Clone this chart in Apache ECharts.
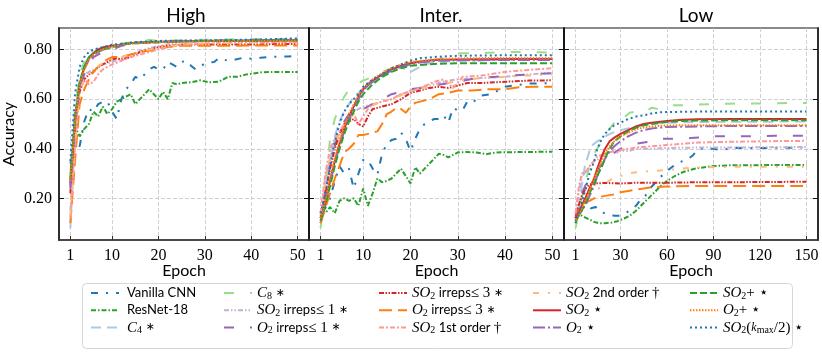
<!DOCTYPE html>
<html>
<head>
<meta charset="utf-8">
<script src="https://cdn.jsdelivr.net/npm/echarts@6/dist/echarts.min.js"></script>
<style>
html, body { margin: 0; padding: 0; background: #fff; }
#chart { width: 822px; height: 352px; }
</style>
</head>
<body>
<div id="chart"></div>
<script>
// panel titles and tick labels
const panelTitles = ['High', 'Inter.', 'Low']
const xTicks = [[1, 10, 20, 30, 40, 50], [1, 10, 20, 30, 40, 50], [1, 30, 60, 90, 120, 150]]
const xRanges = [[-1.45, 52.45], [-1.45, 52.45], [-6.45, 157.45]]
const yTicks = [0.2, 0.4, 0.6, 0.8]
const yRange = [0.032, 0.887]

// ---- High ----
const vanillaHigh = [[1,0.34],[2,0.42],[3,0.41],[4,0.51],[5,0.56],[6,0.55],[7,0.58],[8,0.59],[9,0.59],[10,0.55],[11,0.52],[12,0.60],[13,0.64],[14,0.66],[15,0.69],[16,0.68],[17,0.70],[18,0.72],[19,0.73],[20,0.72],[21,0.72],[22,0.75],[23,0.74],[24,0.73],[25,0.75],[26,0.755],[27,0.735],[28,0.72],[29,0.73],[30,0.745],[32,0.75],[33,0.765],[35,0.755],[36,0.757],[38,0.766],[40,0.763],[42,0.767],[44,0.77],[46,0.772],[48,0.772],[50,0.774]]
const resnetHigh = [[1,0.27],[2,0.49],[3,0.45],[4,0.48],[5,0.50],[6,0.55],[7,0.53],[8,0.57],[9,0.54],[10,0.56],[11,0.59],[12,0.60],[13,0.61],[14,0.62],[15,0.58],[16,0.60],[17,0.62],[18,0.64],[19,0.62],[20,0.60],[21,0.63],[22,0.60],[23,0.665],[24,0.66],[25,0.665],[27,0.668],[29,0.676],[31,0.668],[33,0.67],[34,0.68],[35,0.69],[37,0.69],[39,0.70],[42,0.708],[45,0.71],[50,0.71]]
const c4High = [[1,0.08],[2,0.45],[3,0.66],[4,0.74],[5,0.77],[6,0.79],[7,0.80],[8,0.81],[10,0.815],[12,0.82],[15,0.825],[20,0.83],[25,0.832],[30,0.835],[40,0.836],[50,0.84]]
const c8High = [[1,0.30],[2,0.56],[3,0.70],[4,0.75],[5,0.78],[6,0.795],[8,0.81],[10,0.815],[12,0.825],[15,0.83],[18,0.84],[20,0.835],[25,0.838],[30,0.84],[40,0.842],[50,0.843]]
const so2Irr1High = [[1,0.15],[2,0.45],[3,0.66],[4,0.70],[5,0.71],[6,0.72],[8,0.74],[10,0.75],[12,0.765],[14,0.78],[16,0.795],[18,0.805],[20,0.815],[25,0.83],[30,0.835],[40,0.835],[50,0.838]]
const o2Irr1High = [[1,0.25],[2,0.48],[3,0.64],[4,0.70],[5,0.74],[6,0.77],[8,0.79],[10,0.80],[12,0.815],[15,0.825],[20,0.83],[25,0.833],[30,0.835],[40,0.838],[50,0.84]]
const so2Irr3High = [[1,0.22],[2,0.50],[3,0.63],[4,0.68],[5,0.70],[6,0.71],[7,0.73],[8,0.74],[9,0.75],[10,0.76],[11,0.765],[12,0.76],[14,0.77],[16,0.79],[18,0.80],[20,0.81],[22,0.815],[25,0.82],[30,0.82],[40,0.82],[45,0.822],[50,0.823]]
const o2Irr3High = [[1,0.10],[2,0.35],[3,0.58],[4,0.64],[5,0.68],[6,0.71],[7,0.73],[8,0.75],[9,0.76],[10,0.77],[12,0.77],[14,0.78],[16,0.79],[18,0.795],[20,0.805],[22,0.81],[25,0.815],[30,0.815],[40,0.816],[50,0.816]]
const so2FirstHigh = [[1,0.12],[2,0.40],[3,0.66],[4,0.68],[5,0.66],[6,0.67],[7,0.70],[8,0.72],[9,0.73],[10,0.74],[12,0.755],[14,0.77],[16,0.78],[18,0.79],[20,0.80],[22,0.81],[25,0.82],[30,0.825],[40,0.83],[50,0.83]]
const so2SecondHigh = [[1,0.13],[2,0.42],[3,0.63],[4,0.68],[5,0.70],[6,0.72],[8,0.745],[10,0.76],[12,0.77],[14,0.78],[16,0.79],[18,0.80],[20,0.81],[25,0.82],[30,0.825],[40,0.83],[50,0.832]]
const so2High = [[1,0.26],[2,0.52],[3,0.66],[4,0.73],[5,0.765],[6,0.785],[7,0.80],[8,0.808],[10,0.815],[12,0.82],[15,0.828],[20,0.832],[25,0.834],[30,0.835],[40,0.836],[50,0.838]]
const o2High = [[1,0.24],[2,0.50],[3,0.65],[4,0.72],[5,0.76],[6,0.78],[8,0.80],[10,0.81],[12,0.82],[15,0.825],[20,0.83],[25,0.835],[30,0.836],[40,0.837],[50,0.84]]
const so2PlusHigh = [[1,0.28],[2,0.53],[3,0.67],[4,0.73],[5,0.77],[6,0.785],[8,0.80],[10,0.81],[12,0.82],[15,0.828],[20,0.83],[25,0.833],[30,0.835],[40,0.836],[50,0.837]]
const o2PlusHigh = [[1,0.27],[2,0.51],[3,0.66],[4,0.72],[5,0.76],[6,0.78],[8,0.80],[10,0.812],[12,0.82],[15,0.825],[20,0.83],[25,0.832],[30,0.834],[40,0.835],[50,0.836]]
const so2HalfHigh = [[1,0.35],[2,0.62],[3,0.73],[4,0.77],[5,0.79],[6,0.80],[8,0.81],[10,0.82],[12,0.823],[15,0.83],[20,0.835],[30,0.837],[40,0.84],[50,0.845]]

// ---- Inter. ----
const vanillaInter = [[1,0.15],[2,0.16],[3,0.20],[4,0.27],[5,0.33],[6,0.30],[7,0.32],[8,0.24],[9,0.30],[10,0.355],[11,0.355],[12,0.32],[13,0.295],[14,0.38],[15,0.42],[16,0.435],[17,0.44],[18,0.465],[19,0.44],[20,0.39],[21,0.44],[22,0.48],[23,0.50],[24,0.51],[25,0.52],[26,0.52],[27,0.535],[28,0.505],[29,0.565],[30,0.555],[31,0.555],[32,0.59],[33,0.585],[35,0.615],[37,0.62],[40,0.65],[42,0.656],[45,0.663],[50,0.665]]
const resnetInter = [[1,0.15],[2,0.14],[3,0.165],[4,0.14],[5,0.19],[6,0.20],[7,0.19],[8,0.20],[9,0.17],[10,0.24],[11,0.17],[12,0.22],[13,0.28],[14,0.265],[15,0.27],[16,0.28],[17,0.30],[18,0.32],[19,0.29],[20,0.26],[21,0.325],[22,0.30],[23,0.32],[24,0.34],[25,0.36],[26,0.38],[27,0.375],[28,0.365],[30,0.385],[32,0.387],[34,0.385],[36,0.378],[38,0.385],[40,0.386],[45,0.387],[50,0.388]]
const c4Inter = [[1,0.13],[2,0.24],[3,0.36],[4,0.45],[5,0.51],[6,0.55],[7,0.58],[8,0.61],[10,0.64],[12,0.67],[14,0.69],[16,0.72],[18,0.73],[19,0.72],[20,0.71],[21,0.72],[23,0.74],[25,0.75],[30,0.755],[40,0.758],[50,0.76]]
const c8Inter = [[1,0.08],[2,0.25],[3,0.44],[4,0.52],[5,0.57],[6,0.61],[7,0.64],[8,0.655],[10,0.675],[12,0.69],[14,0.71],[16,0.725],[18,0.735],[20,0.745],[25,0.758],[28,0.77],[30,0.785],[35,0.785],[40,0.79],[45,0.79],[50,0.787]]
const so2Irr1Inter = [[1,0.14],[2,0.28],[3,0.36],[4,0.42],[5,0.46],[6,0.50],[7,0.53],[8,0.55],[10,0.57],[12,0.58],[14,0.59],[16,0.60],[18,0.62],[20,0.635],[22,0.645],[25,0.66],[28,0.675],[30,0.68],[35,0.685],[40,0.69],[45,0.70],[50,0.705]]
const o2Irr1Inter = [[1,0.10],[2,0.22],[3,0.33],[4,0.41],[5,0.47],[6,0.51],[7,0.54],[8,0.55],[9,0.56],[10,0.56],[11,0.57],[12,0.58],[14,0.60],[16,0.62],[18,0.63],[20,0.64],[22,0.645],[25,0.655],[28,0.665],[30,0.67],[34,0.685],[38,0.69],[41,0.695],[45,0.70],[50,0.705]]
const so2Irr3Inter = [[1,0.12],[2,0.22],[3,0.32],[4,0.40],[5,0.46],[6,0.50],[7,0.51],[8,0.52],[9,0.50],[10,0.49],[11,0.53],[12,0.56],[14,0.57],[16,0.58],[18,0.60],[20,0.625],[22,0.635],[24,0.645],[26,0.65],[28,0.645],[30,0.655],[32,0.665],[35,0.665],[40,0.67],[45,0.675],[50,0.676]]
const o2Irr3Inter = [[1,0.10],[2,0.16],[3,0.22],[4,0.28],[5,0.33],[6,0.385],[7,0.40],[8,0.42],[9,0.455],[10,0.455],[12,0.465],[13,0.47],[14,0.50],[15,0.54],[16,0.55],[17,0.565],[18,0.56],[19,0.545],[20,0.57],[21,0.585],[22,0.59],[24,0.60],[26,0.62],[28,0.625],[30,0.635],[33,0.635],[36,0.64],[40,0.64],[43,0.648],[46,0.65],[50,0.65]]
const so2FirstInter = [[1,0.14],[2,0.30],[3,0.40],[4,0.44],[5,0.47],[6,0.50],[7,0.52],[8,0.54],[9,0.50],[10,0.53],[11,0.56],[12,0.58],[14,0.59],[16,0.60],[18,0.62],[20,0.63],[22,0.645],[25,0.67],[27,0.68],[29,0.645],[31,0.69],[35,0.695],[40,0.71],[45,0.718],[50,0.725]]
const so2SecondInter = [[1,0.13],[2,0.26],[3,0.35],[4,0.41],[5,0.46],[6,0.50],[8,0.54],[10,0.56],[12,0.575],[14,0.59],[16,0.60],[18,0.615],[20,0.63],[22,0.64],[25,0.655],[28,0.665],[30,0.675],[35,0.685],[40,0.69],[45,0.695],[50,0.70]]
const so2Inter = [[1,0.12],[2,0.18],[3,0.27],[4,0.35],[5,0.42],[6,0.48],[7,0.53],[8,0.57],[9,0.61],[10,0.64],[11,0.66],[12,0.675],[14,0.70],[16,0.72],[18,0.735],[20,0.745],[22,0.752],[25,0.758],[30,0.76],[40,0.762],[50,0.762]]
const o2Inter = [[1,0.11],[2,0.18],[3,0.26],[4,0.34],[5,0.41],[6,0.47],[7,0.52],[8,0.565],[9,0.60],[10,0.635],[11,0.655],[12,0.67],[14,0.695],[16,0.715],[18,0.73],[20,0.74],[22,0.748],[25,0.754],[30,0.757],[40,0.758],[50,0.758]]
const so2PlusInter = [[1,0.11],[2,0.17],[3,0.25],[4,0.33],[5,0.40],[6,0.46],[7,0.51],[8,0.55],[9,0.59],[10,0.62],[12,0.66],[14,0.69],[16,0.71],[18,0.725],[20,0.735],[25,0.742],[30,0.745],[40,0.745],[50,0.745]]
const o2PlusInter = [[1,0.12],[2,0.19],[3,0.28],[4,0.36],[5,0.43],[6,0.49],[7,0.54],[8,0.58],[9,0.615],[10,0.645],[12,0.68],[14,0.705],[16,0.725],[18,0.74],[20,0.75],[25,0.76],[30,0.765],[40,0.766],[50,0.766]]
const so2HalfInter = [[1,0.14],[2,0.22],[3,0.33],[4,0.43],[5,0.50],[6,0.55],[7,0.58],[8,0.60],[9,0.62],[10,0.65],[12,0.68],[14,0.70],[16,0.725],[18,0.74],[20,0.755],[22,0.765],[25,0.77],[30,0.775],[40,0.777],[50,0.777]]

// ---- Low ----
const vanillaLow = [[1,0.12],[3,0.15],[5,0.17],[7,0.16],[9,0.17],[11,0.16],[14,0.165],[17,0.145],[20,0.14],[23,0.135],[26,0.13],[30,0.13],[33,0.14],[36,0.15],[40,0.17],[43,0.195],[46,0.21],[49,0.24],[52,0.26],[55,0.28],[58,0.30],[62,0.32],[66,0.34],[70,0.35],[74,0.36],[77,0.375],[80,0.40],[85,0.40],[90,0.40],[95,0.395],[100,0.40],[105,0.404],[110,0.403],[120,0.403],[135,0.404],[150,0.405]]
const resnetLow = [[1,0.15],[3,0.14],[5,0.13],[8,0.12],[10,0.115],[13,0.105],[16,0.10],[20,0.10],[24,0.102],[28,0.108],[32,0.118],[36,0.13],[40,0.15],[44,0.175],[48,0.20],[52,0.225],[56,0.25],[60,0.27],[65,0.29],[70,0.305],[75,0.315],[80,0.322],[90,0.33],[100,0.333],[120,0.334],[150,0.335]]
const c4Low = [[1,0.10],[3,0.16],[5,0.25],[7,0.33],[9,0.37],[11,0.41],[13,0.42],[15,0.43],[18,0.44],[20,0.45],[25,0.465],[30,0.475],[40,0.49],[50,0.50],[60,0.505],[80,0.508],[150,0.51]]
const c8Low = [[1,0.08],[3,0.14],[5,0.20],[8,0.28],[10,0.33],[13,0.38],[15,0.40],[18,0.43],[20,0.46],[23,0.48],[26,0.505],[28,0.53],[30,0.52],[33,0.53],[36,0.545],[40,0.55],[45,0.545],[50,0.565],[55,0.56],[60,0.575],[70,0.575],[80,0.578],[100,0.582],[120,0.583],[150,0.585]]
const so2Irr1Low = [[1,0.13],[3,0.22],[5,0.29],[8,0.31],[10,0.33],[13,0.35],[15,0.355],[18,0.37],[20,0.38],[25,0.39],[30,0.393],[35,0.39],[40,0.40],[50,0.40],[60,0.403],[80,0.405],[100,0.405],[150,0.407]]
const o2Irr1Low = [[1,0.12],[3,0.17],[5,0.22],[8,0.26],[10,0.28],[13,0.30],[15,0.31],[18,0.34],[20,0.36],[25,0.38],[30,0.40],[35,0.41],[40,0.42],[45,0.425],[50,0.43],[55,0.44],[60,0.44],[75,0.443],[90,0.45],[110,0.45],[130,0.452],[150,0.452]]
const so2Irr3Low = [[1,0.12],[3,0.17],[5,0.21],[8,0.245],[10,0.255],[13,0.26],[20,0.262],[30,0.26],[40,0.263],[60,0.263],[80,0.265],[100,0.265],[150,0.267]]
const o2Irr3Low = [[1,0.11],[3,0.15],[5,0.17],[8,0.185],[10,0.19],[13,0.20],[16,0.205],[20,0.21],[25,0.215],[30,0.225],[35,0.23],[40,0.235],[45,0.24],[50,0.245],[60,0.248],[80,0.25],[100,0.25],[150,0.25]]
const so2FirstLow = [[1,0.14],[3,0.24],[5,0.30],[8,0.31],[10,0.33],[13,0.35],[15,0.37],[18,0.375],[20,0.38],[23,0.385],[25,0.39],[28,0.385],[30,0.395],[35,0.40],[40,0.405],[50,0.41],[60,0.415],[70,0.42],[80,0.425],[100,0.428],[120,0.43],[150,0.432]]
const so2SecondLow = [[1,0.11],[3,0.15],[5,0.18],[8,0.21],[10,0.22],[13,0.23],[16,0.24],[20,0.26],[25,0.28],[30,0.29],[35,0.30],[40,0.305],[50,0.31],[60,0.315],[70,0.32],[80,0.325],[100,0.327],[120,0.327],[150,0.327]]
const so2Low = [[1,0.12],[3,0.14],[5,0.17],[8,0.21],[10,0.24],[13,0.28],[15,0.32],[18,0.37],[20,0.40],[23,0.43],[26,0.445],[30,0.46],[35,0.475],[40,0.49],[45,0.50],[50,0.505],[60,0.512],[70,0.517],[80,0.519],[100,0.52],[120,0.52],[150,0.52]]
const o2Low = [[1,0.11],[3,0.13],[5,0.15],[8,0.18],[10,0.21],[13,0.25],[15,0.29],[18,0.33],[20,0.36],[23,0.39],[26,0.41],[30,0.43],[35,0.45],[40,0.465],[45,0.475],[50,0.482],[60,0.488],[80,0.49],[100,0.492],[150,0.492]]
const so2PlusLow = [[1,0.11],[3,0.13],[5,0.15],[8,0.19],[10,0.22],[13,0.26],[15,0.29],[18,0.33],[20,0.36],[23,0.40],[26,0.43],[30,0.45],[35,0.47],[40,0.485],[45,0.495],[50,0.50],[60,0.508],[70,0.512],[80,0.514],[100,0.515],[150,0.515]]
const o2PlusLow = [[1,0.10],[3,0.13],[5,0.16],[8,0.20],[10,0.23],[13,0.28],[15,0.31],[18,0.35],[20,0.38],[23,0.41],[26,0.43],[30,0.45],[35,0.465],[40,0.478],[45,0.486],[50,0.49],[60,0.494],[80,0.495],[100,0.495],[150,0.495]]
const so2HalfLow = [[1,0.10],[3,0.14],[5,0.18],[8,0.25],[10,0.30],[13,0.35],[15,0.40],[18,0.44],[20,0.46],[23,0.48],[26,0.495],[30,0.505],[35,0.52],[40,0.53],[45,0.535],[50,0.542],[55,0.547],[60,0.548],[80,0.55],[100,0.55],[150,0.55]]

// model list: legend name, colour, dash pattern, data per panel
const models = [
    {name: 'Vanilla CNN', color: '#1f77b4', dash: [7, 8, 2, 8], data: [vanillaHigh, vanillaInter, vanillaLow]},
    {name: 'ResNet-18', color: '#2ca02c', dash: [5, 2, 1.5, 2], data: [resnetHigh, resnetInter, resnetLow]},
    {name: 'C4 *', color: '#aec7e8', dash: [10, 6], data: [c4High, c4Inter, c4Low]},
    {name: 'C8 *', color: '#98df8a', dash: [10, 16], data: [c8High, c8Inter, c8Low]},
    {name: 'SO2 irreps<= 1 *', color: '#c5b0d5', dash: [5, 2, 1.5, 2, 1.5, 2], data: [so2Irr1High, so2Irr1Inter, so2Irr1Low]},
    {name: 'O2 irreps<= 1 *', color: '#9467bd', dash: [10, 16], data: [o2Irr1High, o2Irr1Inter, o2Irr1Low]},
    {name: 'SO2 irreps<= 3 *', color: '#d62728', dash: [5, 1.5, 1.5, 1.5, 1.5, 1.5], data: [so2Irr3High, so2Irr3Inter, so2Irr3Low]},
    {name: 'O2 irreps<= 3 *', color: '#ff7f0e', dash: [13, 6], data: [o2Irr3High, o2Irr3Inter, o2Irr3Low]},
    {name: 'SO2 1st order', color: '#ff9896', dash: [5, 2, 2, 2], data: [so2FirstHigh, so2FirstInter, so2FirstLow]},
    {name: 'SO2 2nd order', color: '#ffbb78', dash: [6, 9, 2, 9], data: [so2SecondHigh, so2SecondInter, so2SecondLow]},
    {name: 'SO2 star', color: '#d62728', dash: 'solid', data: [so2High, so2Inter, so2Low]},
    {name: 'O2 star', color: '#9467bd', dash: [12, 3, 2, 3], data: [o2High, o2Inter, o2Low]},
    {name: 'SO2+ star', color: '#2ca02c', dash: [7, 3], data: [so2PlusHigh, so2PlusInter, so2PlusLow]},
    {name: 'O2+ star', color: '#ff7f0e', dash: [1.5, 1.5], data: [o2PlusHigh, o2PlusInter, o2PlusLow]},
    {name: 'SO2 kmax/2 star', color: '#1f77b4', dash: [2, 3], data: [so2HalfHigh, so2HalfInter, so2HalfLow]}
]

// rich legend labels (math parts in serif)
const legendLabels = {
    'Vanilla CNN': '{t|Vanilla CNN}{s| }',
    'ResNet-18': '{t|ResNet-18}{s| }',
    'C4 *': '{m|C}{s|4}{r| }{a|∗}',
    'C8 *': '{m|C}{s|8}{r| }{a|∗}',
    'SO2 irreps<= 1 *': '{m|SO}{s|2}{t| irreps}{r|≤ 1 }{a|∗}',
    'O2 irreps<= 1 *': '{m|O}{s|2}{t| irreps}{r|≤ 1 }{a|∗}',
    'SO2 irreps<= 3 *': '{m|SO}{s|2}{t| irreps}{r|≤ 3 }{a|∗}',
    'O2 irreps<= 3 *': '{m|O}{s|2}{t| irreps}{r|≤ 3 }{a|∗}',
    'SO2 1st order': '{m|SO}{s|2}{t| 1st order }{r|†}',
    'SO2 2nd order': '{m|SO}{s|2}{t| 2nd order }{r|†}',
    'SO2 star': '{m|SO}{s|2}{r| ⋆}',
    'O2 star': '{m|O}{s|2}{r| ⋆}',
    'SO2+ star': '{m|SO}{s|2}{r|+ ⋆}',
    'O2+ star': '{m|O}{s|2}{r|+ ⋆}',
    'SO2 kmax/2 star': '{m|SO}{s|2}{r|(}{k|k}{s|max}{r|/2) ⋆}'
}

const legendCols = [85, 218, 373, 527, 684]
const gridLefts = [54, 309, 564]

onload = () => {
    let chart = echarts.init(document.getElementById('chart'), null, {renderer: 'canvas'})

    let grids = gridLefts.map((left, i) => ({
        left: left, top: 28, width: i === 2 ? 254 : 255, height: 212,
        show: true, borderColor: '#8a8a8a', borderWidth: 2
    }))

    let gridLine = {show: true, lineStyle: {type: [4, 2], color: '#c4c4c4', width: 0.8}}
    let tickFont = {fontFamily: 'Liberation Serif', fontSize: 16, color: '#000'}

    let xAxes = xTicks.map((ticks, i) => ({
        gridIndex: i, type: 'value', min: xRanges[i][0], max: xRanges[i][1],
        axisLine: {show: true, onZero: false, lineStyle: {color: '#333', width: 1.5}},
        axisTick: {show: true, inside: true, length: 4, customValues: ticks, lineStyle: {color: '#333'}},
        axisLabel: Object.assign({customValues: ticks, margin: 8}, tickFont),
        splitLine: gridLine,
        name: 'Epoch', nameLocation: 'middle', nameGap: 23, nameMoveOverlap: false,
        nameTextStyle: {fontFamily: 'Lato', fontSize: 16, color: '#000'}
    }))

    let yAxes = []
    gridLefts.forEach((left, i) => {
        yAxes.push({
            gridIndex: i, type: 'value', min: yRange[0], max: yRange[1], position: 'left',
            axisLine: {show: true, onZero: false, lineStyle: {color: '#111', width: 1.5}},
            axisTick: {show: true, inside: true, length: 5, customValues: yTicks, lineStyle: {color: '#111'}},
            axisLabel: Object.assign({show: i === 0, customValues: yTicks, margin: 7, formatter: v => v.toFixed(2)}, tickFont),
            splitLine: gridLine,
            name: i === 0 ? 'Accuracy' : '', nameLocation: 'middle', nameGap: 42,
            nameTextStyle: {fontFamily: 'Lato', fontSize: 16, color: '#000'}
        })
        yAxes.push({
            gridIndex: i, type: 'value', min: yRange[0], max: yRange[1], position: 'right',
            axisLine: {show: true, onZero: false, lineStyle: {color: '#111', width: 1.5}},
            axisTick: {show: true, inside: true, length: 5, customValues: yTicks, lineStyle: {color: '#111'}},
            axisLabel: {show: false},
            splitLine: {show: false}
        })
    })

    let series = []
    models.forEach((model) => {
        model.data.forEach((points, p) => {
            series.push({
                name: model.name, type: 'line', xAxisIndex: p, yAxisIndex: p * 2,
                data: points, showSymbol: false, symbol: 'none', animation: false,
                lineStyle: {color: model.color, width: 2, type: model.dash},
                itemStyle: {color: model.color}
            })
        })
    })

    // every label carries a subscript token so all legend rows have the same height
    let rich = {
        t: {fontFamily: 'Lato', fontSize: 13, color: '#000', lineHeight: 20},
        m: {fontFamily: 'Liberation Serif', fontStyle: 'italic', fontSize: 15, color: '#000', lineHeight: 20},
        r: {fontFamily: 'Liberation Serif', fontSize: 15, color: '#000', lineHeight: 20},
        a: {fontFamily: 'DejaVu Sans', fontSize: 11, color: '#000', lineHeight: 20},
        k: {fontFamily: 'Liberation Serif', fontStyle: 'italic', fontSize: 12, color: '#000', lineHeight: 20},
        s: {fontFamily: 'Liberation Serif', fontSize: 10, color: '#000', lineHeight: 14, padding: [6, 0, 0, 0]}
    }

    // legend handles: dashed line only, the marker is hidden
    let legends = legendCols.map((left, c) => ({
        data: models.slice(c * 3, c * 3 + 3).map(m => m.name),
        itemStyle: {opacity: 0},
        orient: 'vertical', left: left, top: 280,
        itemWidth: 28, itemHeight: 16, itemGap: 1.3,
        formatter: name => legendLabels[name],
        textStyle: {padding: [0, 0, 0, c === 0 ? 3 : 0], rich: rich}
    }))

    chart.setOption({
        animation: false,
        title: panelTitles.map((text, i) => ({
            text: text, left: gridLefts[i] + 127, top: 1, textAlign: 'center',
            textStyle: {fontFamily: 'Lato', fontWeight: 'normal', fontSize: 19, color: '#000'}
        })),
        graphic: [{
            type: 'rect', left: 82, top: 283, z: -10,
            shape: {width: 710, height: 65, r: 4},
            style: {fill: '#fff', stroke: '#d6d6d6', lineWidth: 1}
        }],
        legend: legends,
        grid: grids,
        xAxis: xAxes,
        yAxis: yAxes,
        series: series
    })
}
</script>
</body>
</html>
